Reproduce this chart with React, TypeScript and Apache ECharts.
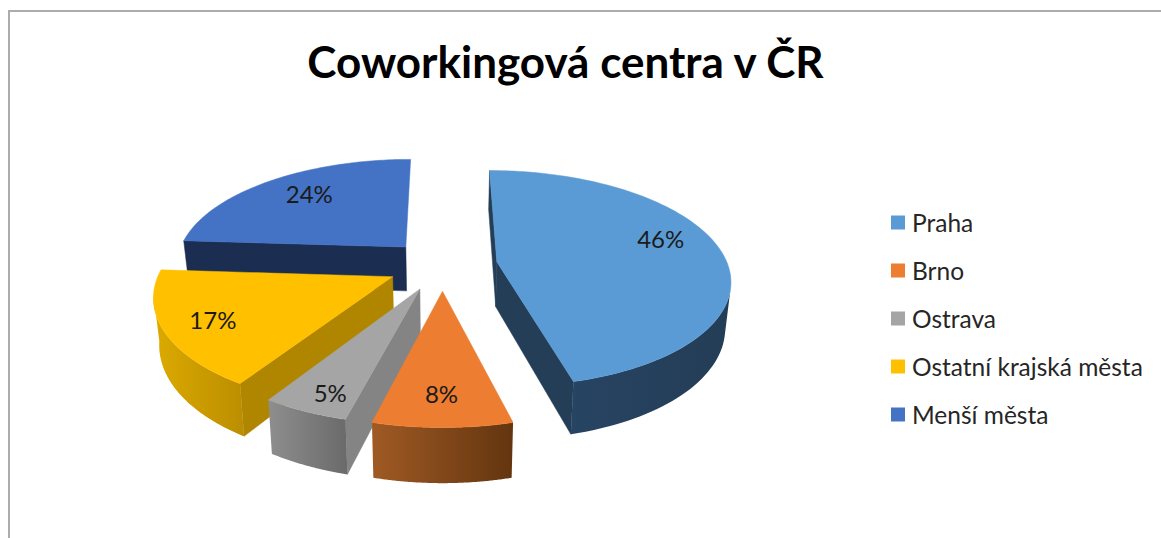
import React, { useEffect, useRef } from "react";
import * as echarts from "echarts";

const titleText = "Coworkingová centra v ČR";
const categories = ["Praha", "Brno", "Ostrava", "Ostatní krajská města", "Menší města"];
const shares = [46, 8, 5, 17, 24];

const topColors = ["#5b9bd5", "#ed7d31", "#a5a5a5", "#ffc000", "#4472c4"];
const cutColors = ["#243e57", "#6f3a14", "#848484", "#b08600", "#1b2d50"];
const wallStops = [
  ["#274463", "#243d56"],
  ["#a05a24", "#63350f"],
  ["#8e8e8e", "#6a6a6a"],
  ["#dcaa00", "#bb8e00"],
  ["#1b2d50", "#1b2d50"],
];
const paintOrder = [2, 5, 4, 3, 1];
const labelNudge = [[7, -14], [-1, 12], [-13, 22], [-23, 6], [1, -6]];

const CX = 442.5, CY = 265, TILT = 0.46, DIST = 1500, R = 231, EXPLODE = 55, DEPTH = 45, CONVERGE = 0.98, CAM_X = -60;
const FONT = "Lato, 'Open Sans', sans-serif";
const TAU = Math.PI * 2;
const total = shares.reduce((a, b) => a + b, 0);

function project(X: number, U: number, lower: boolean): number[] {
  const s = 1 / (1 - U / DIST);
  const x = X * s;
  const y = CY + TILT * U * s;
  return lower ? [CX + x * CONVERGE, y + DEPTH * s] : [CX + x, y];
}

function sliceItem(index: number, value: number) {
  let before = 0;
  for (let i = 0; i < index; i++) before += shares[i];
  const a0 = (before / total) * TAU;
  const a1 = ((before + value) / total) * TAU;
  const mid = (a0 + a1) / 2;
  const ex = EXPLODE * Math.sin(mid);
  const eu = -EXPLODE * Math.cos(mid);
  const rim = (a: number) => [ex + R * Math.sin(a), eu - R * Math.cos(a)];
  const edge = (pt: number[], lower: boolean) => project(pt[0], pt[1], lower);
  const seeing = (nx: number, nu: number, p: number[]) => nx * (CAM_X - p[0]) + nu * (DIST - p[1]) > 0;

  const children: any[] = [];
  const apex = [ex, eu];
  const startPt = rim(a0);
  const endPt = rim(a1);
  const wall = (p: number[], q: number[]) => ({
    type: "polygon",
    shape: { points: [edge(p, false), edge(q, false), edge(q, true), edge(p, true)] },
    style: { fill: cutColors[index], stroke: cutColors[index], lineWidth: 0.5 },
  });
  if (seeing(-Math.cos(a0), -Math.sin(a0), apex)) children.push(wall(apex, startPt));
  if (seeing(Math.cos(a1), Math.sin(a1), apex)) children.push(wall(apex, endPt));

  const upper: number[][] = [];
  const lowerPts: number[][] = [];
  const steps = 96;
  for (let i = 0; i <= steps; i++) {
    const a = a0 + ((a1 - a0) * i) / steps;
    const p = rim(a);
    if (seeing(Math.sin(a), -Math.cos(a), p)) {
      upper.push(edge(p, false));
      lowerPts.unshift(edge(p, true));
    }
  }
  if (upper.length > 1) {
    const stops = wallStops[index];
    children.push({
      type: "polygon",
      shape: { points: upper.concat(lowerPts) },
      style: {
        fill: new echarts.graphic.LinearGradient(0, 0, 1, 0, [
          { offset: 0, color: stops[0] },
          { offset: 1, color: stops[1] },
        ]),
      },
    });
  }

  const top: number[][] = [edge(apex, false)];
  for (let i = 0; i <= steps; i++) top.push(edge(rim(a0 + ((a1 - a0) * i) / steps), false));
  children.push({
    type: "polygon",
    shape: { points: top },
    style: { fill: topColors[index], stroke: topColors[index], lineWidth: 0.5 },
  });

  const lp = project(ex + 0.7 * R * Math.sin(mid), eu - 0.7 * R * Math.cos(mid), false);
  children.push({
    type: "text",
    style: {
      text: `${Math.round((value / total) * 100)}%`,
      x: lp[0] + labelNudge[index][0],
      y: lp[1] + labelNudge[index][1],
      fill: "#1a1a1a",
      fontSize: 24,
      fontFamily: FONT,
      align: "center",
      verticalAlign: "middle",
    },
  });
  return { type: "group", children };
}

export default function App() {
  const ref = useRef<HTMLDivElement>(null);
  useEffect(() => {
    document.body.style.margin = "0";
    const chart = echarts.init(ref.current!, null, { renderer: "svg" });
    chart.setOption({
      animation: false,
      backgroundColor: "#ffffff",
      title: {
        text: titleText,
        left: 560.5,
        top: 34,
        textAlign: "center",
        textStyle: { fontFamily: FONT, fontWeight: "bold", fontSize: 44, color: "#000000" },
      },
      legend: {
        orient: "vertical",
        left: 886,
        top: 205,
        itemWidth: 14,
        itemHeight: 14,
        itemGap: 23,
        icon: "rect",
        data: categories,
        selectedMode: false,
        textStyle: { fontFamily: FONT, fontSize: 24.5, color: "#262626", padding: [0, 0, 0, 2] },
      },
      graphic: [
        {
          type: "polyline",
          silent: true,
          shape: { points: [[9, 538], [9, 11], [1161, 11]] },
          style: { stroke: "#acacac", lineWidth: 2, fill: "none" },
        },
      ],
      series: categories.map((name, i) => ({
        type: "custom",
        name,
        coordinateSystem: "none",
        z: paintOrder[i],
        itemStyle: { color: topColors[i] },
        data: [[shares[i]]],
        renderItem: (_p: any, api: any) => sliceItem(i, api.value(0)),
      })),
    });
    return () => chart.dispose();
  }, []);
  return <div ref={ref} style={{ width: 1161, height: 538 }} />;
}
